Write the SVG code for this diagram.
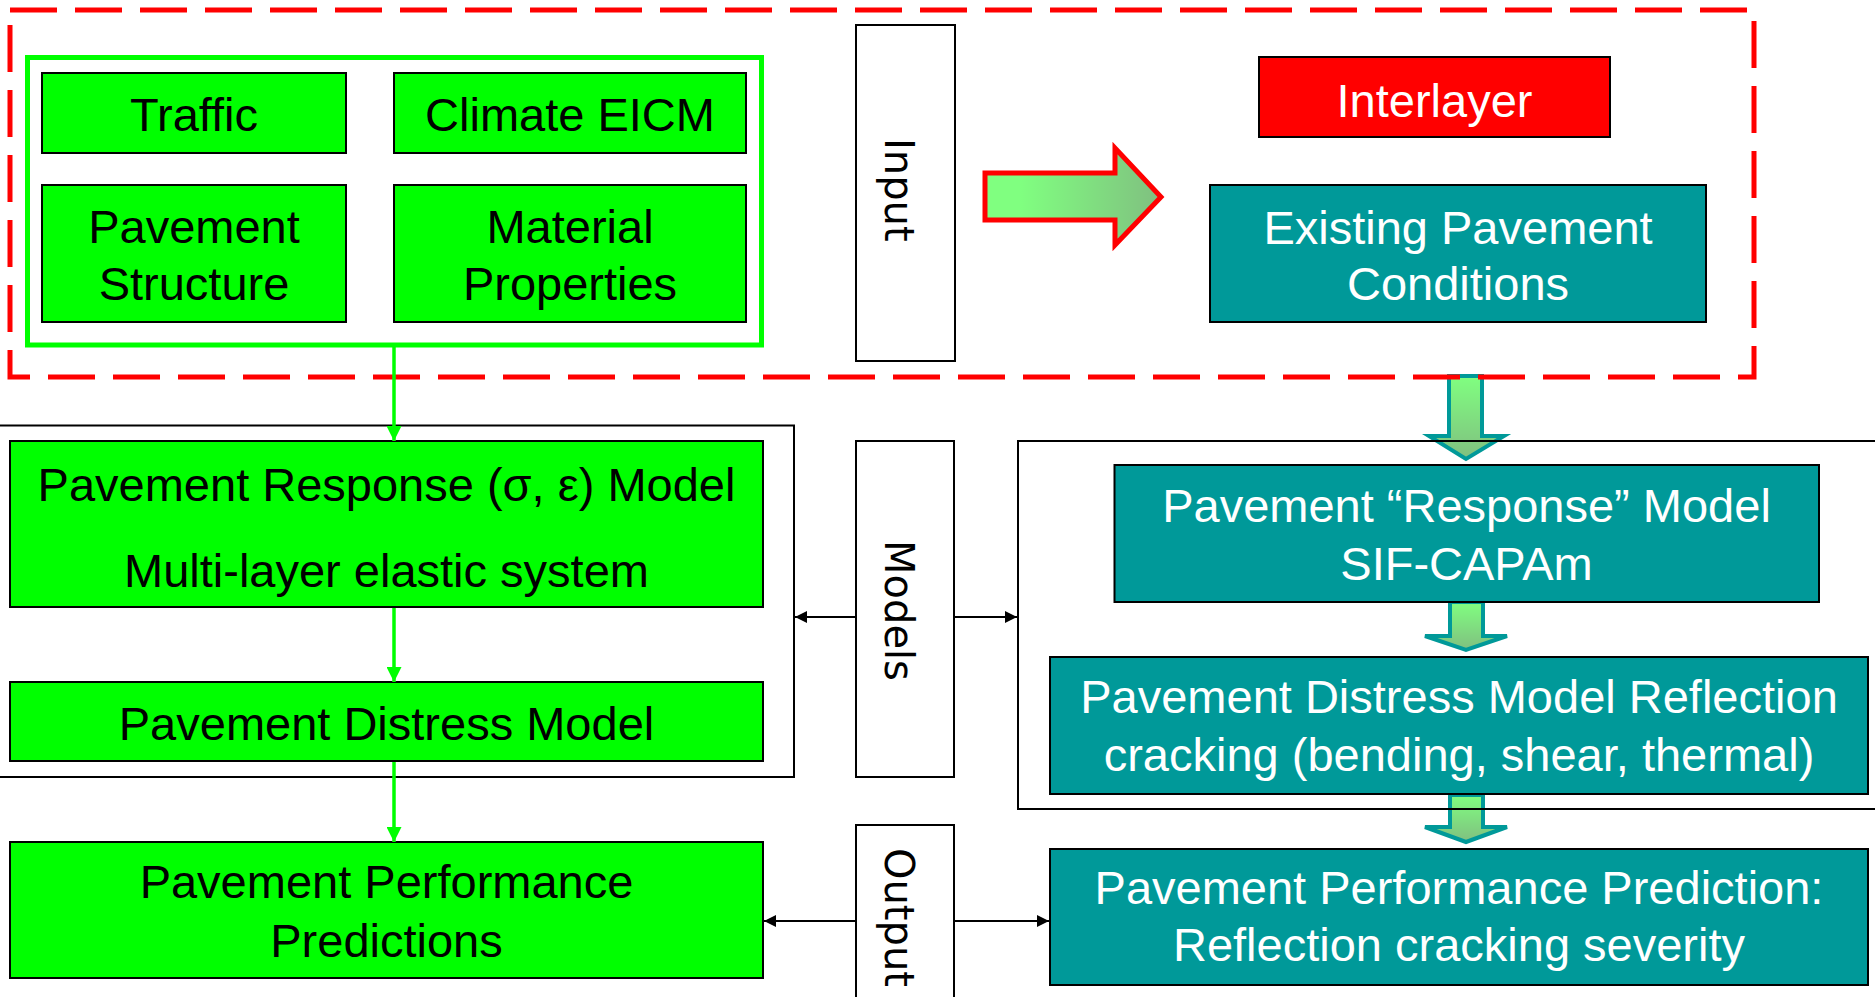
<svg xmlns="http://www.w3.org/2000/svg" width="1875" height="997" viewBox="0 0 1875 997">
<style>
  .gbox { fill: #00FF00; stroke: #000000; stroke-width: 2; }
  .tbox { fill: #009999; stroke: #000000; stroke-width: 2; }
  .rbox { fill: #FF0000; stroke: #000000; stroke-width: 2; }
  .frame { fill: none; stroke: #000000; stroke-width: 2; }
  .lbox { fill: #FFFFFF; stroke: #000000; stroke-width: 2; }
  .t { font-family: "Liberation Sans", Arial, sans-serif; font-size: 47px; text-anchor: middle; }
  .tb { fill: #000000; }
  .tw { fill: #FFFFFF; }
  .lab { font-family: "DejaVu Sans", Verdana, sans-serif; font-size: 40px; fill: #000000; }
  .gline { stroke: #00FF00; stroke-width: 3.5; fill: none; }
  .kline { stroke: #000000; stroke-width: 2; fill: none; }
  .blk { stroke: #009999; stroke-width: 4; fill: url(#gv); stroke-linejoin: miter; }
</style>
<defs>
  <linearGradient id="gv" x1="0" y1="0" x2="0" y2="1">
    <stop offset="0" stop-color="#80FF80"/>
    <stop offset="1" stop-color="#80BF80"/>
  </linearGradient>
  <linearGradient id="gh" x1="0" y1="0" x2="1" y2="0">
    <stop offset="0.2" stop-color="#80FF80"/>
    <stop offset="1" stop-color="#80BF80"/>
  </linearGradient>
  <marker id="ag" viewBox="0 0 10 10" refX="10" refY="5" markerUnits="userSpaceOnUse" markerWidth="15" markerHeight="15" orient="auto">
    <path d="M0,0 L10,5 L0,10 z" fill="#00FF00"/>
  </marker>
  <marker id="ak" viewBox="0 0 10 10" refX="10" refY="5" markerUnits="userSpaceOnUse" markerWidth="17" markerHeight="12" orient="auto">
    <path d="M0,0 L10,5 L0,10 z" fill="#000000"/>
  </marker>
</defs>

<!-- block arrows (drawn under frames) -->
<g id="block-arrows">
  <polygon class="blk" points="1449,376 1482,376 1482,436 1504,436 1466,459 1429,436 1449,436"/>
  <polygon class="blk" points="1450,602 1483,602 1483,636 1507,636 1466,650 1425,636 1450,636"/>
  <polygon class="blk" points="1450,795 1483,795 1483,827 1507,827 1466,842 1425,827 1450,827"/>
</g>

<!-- input region -->
<g id="input-region">
  <rect x="10" y="10" width="1744" height="367" fill="none" stroke="#FF0000" stroke-width="5" stroke-dasharray="47 18"/>
</g>
<g id="input-group">
  <rect x="27.5" y="57.5" width="734" height="287.5" fill="none" stroke="#00FF00" stroke-width="5"/>
</g>

<g id="traffic">
  <rect class="gbox" x="42" y="73" width="304" height="80"/>
  <text class="t tb" x="194" y="131">Traffic</text>
</g>
<g id="climate">
  <rect class="gbox" x="394" y="73" width="352" height="80"/>
  <text class="t tb" x="570" y="131">Climate EICM</text>
</g>
<g id="structure">
  <rect class="gbox" x="42" y="185" width="304" height="137"/>
  <text class="t tb" x="194" y="243">Pavement</text>
  <text class="t tb" x="194" y="300">Structure</text>
</g>
<g id="material">
  <rect class="gbox" x="394" y="185" width="352" height="137"/>
  <text class="t tb" x="570" y="243">Material</text>
  <text class="t tb" x="570" y="300">Properties</text>
</g>

<g id="input-label">
  <rect class="lbox" x="856" y="25" width="99" height="336"/>
  <text class="lab" transform="translate(885,138) rotate(90)">Input</text>
</g>

<g id="big-arrow">
  <polygon points="985,173 1115,173 1115,148 1161,197 1115,245 1115,220 985,220" fill="url(#gh)" stroke="#FF0000" stroke-width="5"/>
</g>

<g id="interlayer">
  <rect class="rbox" x="1259" y="57" width="351" height="80"/>
  <text class="t tw" x="1434.5" y="117">Interlayer</text>
</g>
<g id="existing">
  <rect class="tbox" x="1210" y="185" width="496" height="137"/>
  <text class="t tw" x="1458" y="244">Existing Pavement</text>
  <text class="t tw" x="1458" y="300">Conditions</text>
</g>

<!-- models frames -->
<g id="left-models-frame">
  <rect class="frame" x="-5" y="425.5" width="799" height="351.5"/>
</g>
<g id="right-models-frame">
  <rect class="frame" x="1018" y="441" width="870" height="368"/>
</g>

<g id="response-left">
  <rect class="gbox" x="10" y="441" width="753" height="166"/>
  <text class="t tb" x="386.5" y="501">Pavement Response (σ, ε) Model</text>
  <text class="t tb" x="386.5" y="587">Multi-layer elastic system</text>
</g>
<g id="distress-left">
  <rect class="gbox" x="10" y="682" width="753" height="79"/>
  <text class="t tb" x="386.5" y="740">Pavement Distress Model</text>
</g>
<g id="performance-left">
  <rect class="gbox" x="10" y="842" width="753" height="136"/>
  <text class="t tb" x="386.5" y="898">Pavement Performance</text>
  <text class="t tb" x="386.5" y="957">Predictions</text>
</g>

<g id="models-label">
  <rect class="lbox" x="856" y="441" width="98" height="336"/>
  <text class="lab" transform="translate(885,540) rotate(90)">Models</text>
</g>
<g id="output-label">
  <rect class="lbox" x="856" y="825" width="98" height="190"/>
  <text class="lab" transform="translate(885,848) rotate(90)">Output</text>
</g>

<g id="response-right">
  <rect class="tbox" x="1114.5" y="465" width="704.5" height="137"/>
  <text class="t tw" x="1466.5" y="522">Pavement “Response” Model</text>
  <text class="t tw" x="1466.5" y="580">SIF-CAPAm</text>
</g>
<g id="distress-right">
  <rect class="tbox" x="1050" y="657" width="818" height="137"/>
  <text class="t tw" x="1459" y="713">Pavement Distress Model Reflection</text>
  <text class="t tw" x="1459" y="771">cracking (bending, shear, thermal)</text>
</g>
<g id="performance-right">
  <rect class="tbox" x="1050" y="849" width="818" height="136"/>
  <text class="t tw" x="1459" y="904">Pavement Performance Prediction:</text>
  <text class="t tw" x="1459" y="961">Reflection cracking severity</text>
</g>

<!-- connectors -->
<g id="connectors">
  <line class="gline" x1="394" y1="347" x2="394" y2="441" marker-end="url(#ag)"/>
  <line class="gline" x1="394" y1="608" x2="394" y2="682" marker-end="url(#ag)"/>
  <line class="gline" x1="394" y1="762" x2="394" y2="842" marker-end="url(#ag)"/>
  <line class="kline" x1="856" y1="617" x2="795" y2="617" marker-end="url(#ak)"/>
  <line class="kline" x1="954" y1="617" x2="1017" y2="617" marker-end="url(#ak)"/>
  <line class="kline" x1="856" y1="921" x2="764" y2="921" marker-end="url(#ak)"/>
  <line class="kline" x1="954" y1="921" x2="1049" y2="921" marker-end="url(#ak)"/>
</g>
</svg>
